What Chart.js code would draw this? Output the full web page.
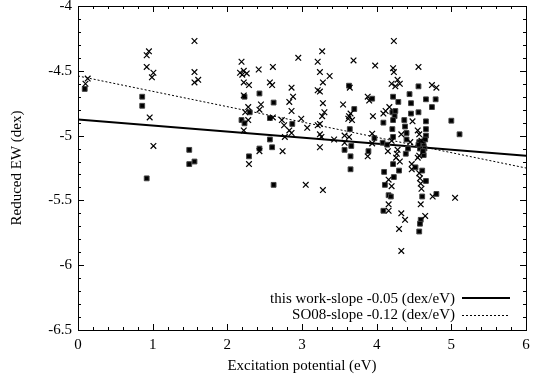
<!DOCTYPE html>
<html>
<head>
<meta charset="utf-8">
<script src="https://cdn.jsdelivr.net/npm/chart.js@4"></script>
<style>
html,body{margin:0;padding:0;background:#fff;}
canvas{display:block;}
</style>
</head>
<body>
<canvas id="c" width="533" height="380"></canvas>
<script>
// ---- data ----
const crossEP = [0.13,0.10,0.92,0.95,0.92,1.01,0.99,0.96,1.01,
  1.56,1.56,1.56,1.61,
  2.19,2.17,2.22,2.20,2.26,2.22,2.29,2.22,2.28,2.24,2.28,2.22,2.29,
  2.42,2.45,2.43,2.43,2.61,2.57,2.60,2.61,2.73,2.76,2.77,2.74,2.86,2.88,2.83,2.86,2.83,2.86,
  2.95,2.99,3.07,3.05,
  3.21,3.24,3.27,3.28,3.21,3.24,3.28,3.30,3.27,3.24,3.21,3.24,3.26,3.24,3.28,3.37,3.43,
  3.55,3.57,3.57,3.64,3.63,3.62,3.67,3.63,3.69,3.65,
  3.88,3.90,3.98,3.95,3.94,3.94,3.88,
  4.23,4.22,4.23,4.56,4.28,4.20,4.25,4.31,4.74,4.80,4.12,4.09,4.17,4.48,4.55,4.57,4.33,
  4.15,4.28,4.27,4.26,4.31,4.57,4.47,4.47,4.57,4.16,4.20,4.58,4.59,4.60,4.75,4.16,4.16,4.59,
  4.33,4.38,4.65,4.30,4.33,5.05,4.55,4.45,4.60,4.20];
const crossEW = [-4.56,-4.60,-4.38,-4.35,-4.47,-4.515,-4.55,-4.86,-5.08,
  -4.27,-4.51,-4.59,-4.57,
  -4.43,-4.515,-4.50,-4.53,-4.52,-4.59,-4.61,-4.69,-4.78,-4.82,-4.88,-4.96,-5.22,
  -4.49,-4.76,-4.80,-5.12,-4.47,-4.59,-4.61,-4.86,-4.88,-4.92,-5.01,-5.12,-4.63,-4.70,-4.74,-4.81,-4.96,-4.98,
  -4.40,-4.87,-4.94,-5.38,
  -4.43,-4.51,-4.35,-4.59,-4.65,-4.66,-4.75,-4.82,-4.85,-4.91,-4.92,-4.99,-5.01,-5.09,-5.42,-4.54,-5.03,
  -4.76,-5.00,-5.055,-4.63,-4.85,-4.87,-4.88,-5.01,-4.42,-4.83,
  -4.70,-4.73,-4.46,-4.85,-4.985,-5.06,-5.16,
  -4.27,-4.48,-4.51,-4.47,-4.57,-4.60,-4.62,-4.60,-4.61,-4.63,-4.81,-4.83,-4.78,-4.89,-4.96,-4.99,-4.99,
  -5.12,-5.11,-5.14,-5.17,-5.20,-5.155,-5.22,-5.26,-5.29,-5.34,-5.39,-5.33,-5.37,-5.41,-5.47,-5.53,-5.58,-5.53,
  -5.60,-5.65,-5.62,-5.72,-5.89,-5.48,-5.17,-5.05,-5.04,-5.04];

const squareEP = [0.09,0.86,0.86,0.92,1.49,1.49,1.56,
  2.23,2.30,2.19,2.23,2.29,2.43,2.43,2.62,2.57,2.57,2.60,2.62,2.87,
  3.57,3.63,3.70,3.64,3.66,3.65,3.65,
  3.94,3.97,3.89,
  4.22,4.29,4.56,4.44,4.66,4.79,4.46,4.46,4.74,4.56,4.21,4.25,4.24,4.22,4.09,4.37,4.38,4.40,4.66,4.21,4.66,4.66,4.22,
  4.08,4.14,4.40,4.39,4.42,4.57,4.62,4.63,4.64,4.58,4.63,4.65,4.62,4.56,
  4.10,4.22,4.30,4.23,4.11,4.16,4.19,4.09,4.52,4.61,4.66,4.61,4.80,4.59,4.58,4.57,
  5.00,5.11];
const squareEW = [-4.64,-4.70,-4.77,-5.33,-5.11,-5.22,-5.20,
  -4.70,-4.82,-4.88,-4.905,-5.16,-4.675,-5.10,-4.745,-4.865,-5.03,-5.09,-5.38,-4.91,
  -5.11,-4.615,-4.795,-4.95,-5.08,-5.16,-5.26,
  -4.715,-5.02,-5.12,
  -4.70,-4.74,-4.62,-4.68,-4.72,-4.72,-4.75,-4.83,-4.78,-4.82,-4.82,-4.81,-4.85,-4.88,-4.90,-4.88,-4.93,-4.98,-4.89,-4.95,-4.95,-5.00,-5.01,
  -5.055,-5.07,-5.03,-5.14,-5.10,-5.05,-5.045,-5.08,-5.10,-5.10,-5.15,-5.03,-5.12,-5.07,
  -5.28,-5.22,-5.27,-5.32,-5.38,-5.46,-5.47,-5.58,-5.245,-5.27,-5.35,-5.47,-5.45,-5.65,-5.68,-5.74,
  -4.885,-4.99];

const fitEP = [0, 6];
const thisWorkEW = [-4.875, -5.155];
const so08EW = [-4.54, -5.25];

const xTicksMajor = [0,1,2,3,4,5,6];
const yTicksMajor = [-6.5,-6,-5.5,-5,-4.5,-4];

const labelThisWork = 'this work-slope -0.05 (dex/eV)';
const labelSO08 = 'SO08-slope -0.12 (dex/eV)';

// ---- build ----
const toPts = (xs, ys) => xs.map((x, i) => ({x: x, y: ys[i]}));
const FONT = 'Liberation Serif';

const frame = {
  id: 'frame',
  afterDatasetsDraw(chart) {
    const {ctx, chartArea: a, scales} = chart;
    const xs = scales.x, ys = scales.y;
    ctx.save();
    ctx.strokeStyle = '#000';
    ctx.lineWidth = 1;
    ctx.beginPath();
    for (let k = 0; k <= 30; k++) {
      const v = xTicksMajor[0] + k * 0.2;
      const px = Math.round(xs.getPixelForValue(v)) + 0.5;
      const len = (k % 5 === 0) ? 6 : 3;
      ctx.moveTo(px, a.bottom); ctx.lineTo(px, a.bottom - len);
      ctx.moveTo(px, a.top); ctx.lineTo(px, a.top + len);
    }
    for (let k = 0; k <= 25; k++) {
      const v = yTicksMajor[0] + k * 0.1;
      const py = Math.round(ys.getPixelForValue(v)) + 0.5;
      const len = (k % 5 === 0) ? 6 : 3;
      ctx.moveTo(a.left, py); ctx.lineTo(a.left + len, py);
      ctx.moveTo(a.right, py); ctx.lineTo(a.right - len, py);
    }
    ctx.stroke();
    ctx.strokeRect(Math.round(a.left) + 0.5, Math.round(a.top) + 0.5,
                   Math.round(a.right - a.left), Math.round(a.bottom - a.top));
    ctx.font = '15px "' + FONT + '"';
    ctx.fillStyle = '#000';
    ctx.textAlign = 'right';
    ctx.textBaseline = 'middle';
    const rows = [
      {label: chart.data.datasets[2].label, width: 2, dash: []},
      {label: chart.data.datasets[3].label, width: 1, dash: [2, 2]}
    ];
    rows.forEach((r, i) => {
      const y = a.bottom - 32 + i * 16.5;
      ctx.fillText(r.label, a.right - 71, y + 1);
      ctx.beginPath();
      ctx.setLineDash(r.dash);
      ctx.lineWidth = r.width;
      ctx.moveTo(a.right - 64, Math.round(y) + (r.width === 1 ? 0.5 : 0));
      ctx.lineTo(a.right - 16, Math.round(y) + (r.width === 1 ? 0.5 : 0));
      ctx.stroke();
    });
    ctx.restore();
  }
};

new Chart(document.getElementById('c'), {
  type: 'scatter',
  data: {
    datasets: [
      {
        label: 'crosses',
        data: toPts(crossEP, crossEW),
        pointStyle: 'crossRot',
        pointRadius: 4,
        pointHoverRadius: 4,
        borderColor: '#000',
        borderWidth: 1.2,
        backgroundColor: '#000'
      },
      {
        label: 'squares',
        data: toPts(squareEP, squareEW),
        pointStyle: 'rect',
        pointRadius: 3.4,
        pointHoverRadius: 3.4,
        borderColor: '#444',
        borderWidth: 1,
        backgroundColor: '#000'
      },
      {
        label: labelThisWork,
        type: 'line',
        data: toPts(fitEP, thisWorkEW),
        showLine: true,
        pointRadius: 0,
        borderColor: '#000',
        borderWidth: 2,
        fill: false
      },
      {
        label: labelSO08,
        type: 'line',
        data: toPts(fitEP, so08EW),
        showLine: true,
        pointRadius: 0,
        borderColor: '#000',
        borderWidth: 1,
        borderDash: [2, 2],
        fill: false
      }
    ]
  },
  options: {
    responsive: false,
    animation: false,
    devicePixelRatio: 1,
    layout: {padding: {top: 6, right: 7, left: 0, bottom: 0}},
    plugins: {legend: {display: false}, tooltip: {enabled: false}},
    scales: {
      x: {
        type: 'linear',
        min: xTicksMajor[0],
        max: xTicksMajor[xTicksMajor.length - 1],
        grid: {display: false, drawTicks: false},
        border: {display: false},
        ticks: {
          stepSize: 1, maxRotation: 0, autoSkip: false, padding: 6,
          color: '#000', font: {family: FONT, size: 15},
          callback: v => String(v)
        },
        title: {
          display: true, text: 'Excitation potential (eV)', color: '#000',
          font: {family: FONT, size: 15}, padding: {top: 0, bottom: 5}
        },
        afterFit(s) { s.height = 50; s.paddingLeft = 0; s.paddingRight = 0; }
      },
      y: {
        type: 'linear',
        min: yTicksMajor[0],
        max: yTicksMajor[yTicksMajor.length - 1],
        grid: {display: false, drawTicks: false},
        border: {display: false},
        ticks: {
          stepSize: 0.5, autoSkip: false, padding: 6,
          color: '#000', font: {family: FONT, size: 15},
          callback: v => String(Math.round(v * 10) / 10)
        },
        title: {
          display: true, text: 'Reduced EW (dex)', color: '#000',
          font: {family: FONT, size: 15}, padding: {top: 8, bottom: 0}
        },
        afterFit(s) { s.width = 78; s.paddingTop = 0; s.paddingBottom = 0; }
      }
    }
  },
  plugins: [frame]
});
</script>
</body>
</html>
